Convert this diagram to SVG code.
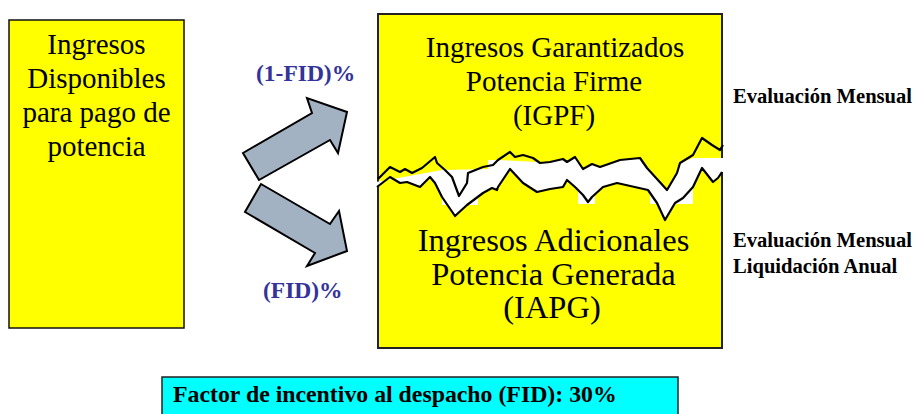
<svg xmlns="http://www.w3.org/2000/svg" width="920" height="414" viewBox="0 0 920 414">
<style>
.big{font-family:"Liberation Serif","Times New Roman",Times,serif;font-size:29px;fill:#000;text-anchor:middle}
.big2{font-family:"Liberation Serif","Times New Roman",Times,serif;font-size:32.5px;fill:#000;text-anchor:middle}
.lbl{font-family:"Liberation Serif","Times New Roman",Times,serif;font-size:20.6px;font-weight:bold;fill:#000}
.pct{font-family:"Liberation Serif","Times New Roman",Times,serif;font-size:23.5px;font-weight:bold;fill:#333399}
.arrow{fill:#A3B2C2;stroke:#000;stroke-width:2;stroke-linejoin:miter}
.wave{fill:none;stroke:#000;stroke-width:2.2;stroke-linejoin:round}
</style>
<rect width="920" height="414" fill="#fff"/>
<g id="ingresos-disponibles">
<rect x="9" y="20" width="175" height="308" fill="#FFFF00" stroke="#111" stroke-width="1.5"/>
<text class="big" x="96.5" y="54">Ingresos</text>
<text class="big" x="96.5" y="88">Disponibles</text>
<text class="big" x="96.5" y="122">para pago de</text>
<text class="big" x="96.5" y="156">potencia</text>
</g>
<g id="ingresos-potencia">
<rect x="378" y="14" width="344" height="334" fill="#FFFF00" stroke="#222" stroke-width="2"/>
<polygon fill="#fff" points="376,182 442,170 488,169 488,160 498,160 537,162 540,163 550,162 563,159 567,162 575,157 583,169 592,164 600,167 620,160 640,158 647,168 667,190 677,173 680,163 693,158 725,158 725,172 722,172 718,178 713,182 702,168 693,187 693,204 674,204 665,220 657,204 650,204 650,192 648,190 617,183 603,187 595,194 595,204 578,204 578,189 575,187 567,180 563,187 550,189 537,192 523,183 510,169 498,187 497,190 492,188 483,193 478,197 478,205 467,205 455,216 447.5,205 442,205 442,197 435,183 430,177 420,187 407,182 400,183 390,177 376,187"/>
<polyline class="wave" points="378,179 390,167 400,172 405,169 412,173 422,168 435,157 437,163 445,170 452,177 459,196 467,183 468,173 483,167 493,165 498,160 510,152 515,157 523,155 533,158 540,163 550,162 563,159 567,162 575,157 583,169 592,164 600,167 620,160 640,158 647,168 667,190 677,173 680,163 693,155 702,138 712,145 720,150 723,145"/>
<polyline class="wave" points="377,187 390,177 400,183 407,182 420,187 430,177 435,183 442,197 455,216 467,205 483,193 492,188 497,190 498,187 510,169 523,183 537,192 550,189 563,187 567,180 575,187 583,195 588,202 592,197 603,187 617,183 648,190 657,203 665,220 675,203 683,198 693,187 702,168 713,182 718,178 722,172"/>
<text class="big" x="555" y="57">Ingresos Garantizados</text>
<text class="big" x="554" y="91">Potencia Firme</text>
<text class="big" x="554" y="125">(IGPF)</text>
<text class="big2" x="553.5" y="251">Ingresos Adicionales</text>
<text class="big2" x="553.5" y="285">Potencia Generada</text>
<text class="big2" x="552" y="318">(IAPG)</text>
</g>
<g id="connectors">
<polygon class="arrow" points="243,153 312,113 307,98 347,112 338,153 330,140 259,180"/>
<polygon class="arrow" points="261,184 330,224 339,211 347,251 307,266 315,253 245,212"/>
</g>
<g id="label-1-fid">
<text class="pct" x="256" y="81">(1-FID)%</text>
</g>
<g id="label-fid">
<text class="pct" x="263" y="298">(FID)%</text>
</g>
<g id="evaluacion-1">
<text class="lbl" x="733" y="103">Evaluación Mensual</text>
</g>
<g id="evaluacion-2">
<text class="lbl" x="733" y="247">Evaluación Mensual</text>
<text class="lbl" x="733" y="273">Liquidación Anual</text>
</g>
<g id="fid-box">
<rect x="162" y="377" width="516" height="45" fill="#00FFFF" stroke="#222" stroke-width="1.5"/>
<text class="pct" style="fill:#000;font-size:23.8px" x="173" y="402">Factor de incentivo al despacho (FID): 30%</text>
</g>
</svg>
